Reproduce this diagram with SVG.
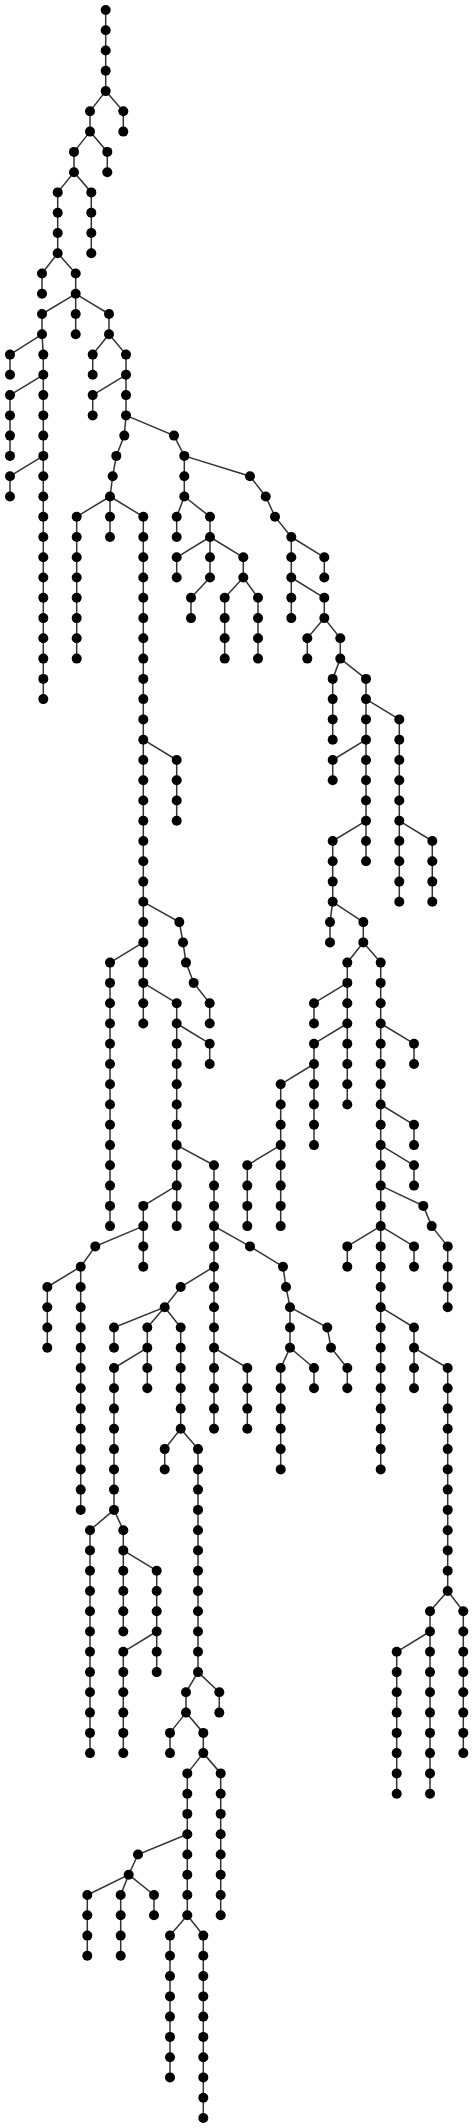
<svg xmlns="http://www.w3.org/2000/svg" width="474" height="2128" viewBox="0 0 474 2128">
<style>
.edges path{fill:none;stroke:#333;stroke-width:1.5}
.node circle{fill:#000}
</style>
<rect width="474" height="2128" fill="#fff"/>
<g id="connectors" class="edges">
<path d="M105.7 10V91.1L90 111.3V131.6L74 151.9V172.2L57.7 192.4V253.2L75.7 273.5V293.8L109 314V334.3L126 354.6V415.4L124.3 435.6L116.3 455.9L112.7 476.2L110 496.5L143.3 516.7V1023.5"/>
<path d="M110 496.5L76.7 516.7V658.6"/>
<path d="M110 496.5V537"/>
<path d="M105.7 91.1L123.3 111.3V131.6"/>
<path d="M90 131.6L107.3 151.9V172.2"/>
<path d="M74 172.2L91.3 192.4V253.2"/>
<path d="M57.7 253.2L42 273.5V293.8"/>
<path d="M75.7 293.8L42 314V334.3L10 354.6V374.8"/>
<path d="M42 334.3L43.3 354.6V699.1"/>
<path d="M43.3 374.8L10 395.1V455.9"/>
<path d="M43.3 455.9L10 476.2V496.5"/>
<path d="M75.7 293.8V334.3"/>
<path d="M109 334.3L92.7 354.6V374.8"/>
<path d="M126 374.8L92.7 395.1V415.4"/>
<path d="M126 415.4L174 435.6L184.3 455.9V496.5L176.7 516.7V537"/>
<path d="M184.3 496.5L210 516.7V537L176.7 557.3V577.5"/>
<path d="M210 537V577.5L191 597.8V618.1"/>
<path d="M210 537L243.3 557.3V577.5L224.7 597.8V658.6"/>
<path d="M243.3 577.5L258 597.8V658.6"/>
<path d="M184.3 455.9L250 476.2L265.7 496.5L275 516.7L291.3 537V618.1"/>
<path d="M291.3 537L324.3 557.3V577.5"/>
<path d="M291.3 577.5L324.3 597.8V618.1L307.3 638.3V658.6"/>
<path d="M324.3 618.1L340.3 638.3V658.6L332.7 678.9V739.7"/>
<path d="M340.3 658.6L366 678.9V861.3"/>
<path d="M366 699.1L399.3 719.4V901.8"/>
<path d="M366 739.7L332.7 760V780.2"/>
<path d="M366 820.8L332.7 841V901.8L330 922.1V942.4"/>
<path d="M332.7 901.8L363.3 922.1V942.4L347.3 962.6V1104.5"/>
<path d="M363.3 942.4L380.7 962.6V1469.4"/>
<path d="M399.3 820.8L432.3 841V901.8"/>
<path d="M347.3 982.9L314 1003.2V1023.5"/>
<path d="M347.3 1023.5L314 1043.7V1145.1"/>
<path d="M314 1064L280.7 1084.3V1226.1"/>
<path d="M280.7 1145.1L247.3 1165.3V1226.1"/>
<path d="M380.7 1023.5L414 1043.7V1064"/>
<path d="M380.7 1104.5L414 1124.8V1145.1"/>
<path d="M380.7 1145.1L414 1165.3V1185.6"/>
<path d="M380.7 1185.6L423.3 1205.9L431.7 1226.1L447.7 1246.4V1307.2"/>
<path d="M380.7 1226.1L347.3 1246.4V1266.7"/>
<path d="M380.7 1226.1L414 1246.4V1266.7"/>
<path d="M380.7 1307.2L414 1327.5V1388.3"/>
<path d="M414 1347.8L447.7 1368V1591"/>
<path d="M447.7 1591L463.3 1611.3V1753.1"/>
<path d="M447.7 1591L430 1611.3V1793.7"/>
<path d="M430 1631.5L396.7 1651.8V1793.7"/>
<path d="M143.3 739.7L176.7 760V820.8"/>
<path d="M143.3 901.8L179.3 922.1L183 942.4L186 962.6L193.7 982.9L209.7 1003.2V1023.5"/>
<path d="M143.3 942.4L110 962.6V1226.1"/>
<path d="M143.3 982.9L176.7 1003.2V1226.1"/>
<path d="M176.7 1023.5L209.7 1043.7V1064"/>
<path d="M176.7 1145.1L214 1165.3V1428.8"/>
<path d="M176.7 1185.6L143.3 1205.9V1266.7"/>
<path d="M143.3 1226.1L95.3 1246.4L80.7 1266.7V1509.9"/>
<path d="M80.7 1266.7L47.3 1287V1347.8"/>
<path d="M214 1226.1L250 1246.4L283 1266.7L286 1287L290 1307.2V1347.8L280.7 1368V1469.4"/>
<path d="M290 1307.2L327.3 1327.5L331 1347.8L347.3 1368V1388.3"/>
<path d="M290 1347.8L314 1368V1388.3"/>
<path d="M214 1266.7L180.7 1287L164.7 1307.2L114 1327.5V1347.8"/>
<path d="M164.7 1307.2L147.3 1327.5V1388.3"/>
<path d="M147.3 1347.8L114 1368V1509.9"/>
<path d="M114 1509.9L90 1530.2V1753.1"/>
<path d="M114 1509.9L123.3 1530.2V1631.5"/>
<path d="M123.3 1550.4L156.7 1570.7V1672.1"/>
<path d="M156.7 1631.5L123.3 1651.8V1753.1"/>
<path d="M164.7 1307.2L180.7 1327.5V1428.8L164.7 1449.1V1469.4"/>
<path d="M180.7 1428.8L198 1449.1V1672.1L186 1692.3V1712.6L170 1732.9V1753.1"/>
<path d="M198 1672.1L219.3 1692.3V1712.6"/>
<path d="M186 1712.6L203.3 1732.9V1753.1L220.7 1773.4V1915.3"/>
<path d="M203.3 1753.1L187.3 1773.4V1915.3"/>
<path d="M187.3 1834.2L138 1854.5L128.7 1874.7L87.3 1895V1955.8"/>
<path d="M128.7 1874.7L120.7 1895V1955.8"/>
<path d="M128.7 1874.7L154 1895V1915.3"/>
<path d="M187.3 1915.3L170 1935.6V2077.4"/>
<path d="M187.3 1915.3L203.3 1935.6V2118"/>
<path d="M214 1347.8L247.3 1368V1428.8"/>
</g>
<g id="nodes" class="node">
<g id="n1"><circle cx="105.7" cy="10" r="5"/></g>
<g id="n2"><circle cx="105.7" cy="30.3" r="5"/></g>
<g id="n3"><circle cx="105.7" cy="50.5" r="5"/></g>
<g id="n4"><circle cx="105.7" cy="70.8" r="5"/></g>
<g id="n5"><circle cx="105.7" cy="91.1" r="5"/></g>
<g id="n6"><circle cx="90" cy="111.3" r="5"/></g>
<g id="n7"><circle cx="90" cy="131.6" r="5"/></g>
<g id="n8"><circle cx="74" cy="151.9" r="5"/></g>
<g id="n9"><circle cx="74" cy="172.2" r="5"/></g>
<g id="n10"><circle cx="57.7" cy="192.4" r="5"/></g>
<g id="n11"><circle cx="57.7" cy="212.7" r="5"/></g>
<g id="n12"><circle cx="57.7" cy="233" r="5"/></g>
<g id="n13"><circle cx="57.7" cy="253.2" r="5"/></g>
<g id="n14"><circle cx="75.7" cy="273.5" r="5"/></g>
<g id="n15"><circle cx="75.7" cy="293.8" r="5"/></g>
<g id="n16"><circle cx="109" cy="314" r="5"/></g>
<g id="n17"><circle cx="109" cy="334.3" r="5"/></g>
<g id="n18"><circle cx="126" cy="354.6" r="5"/></g>
<g id="n19"><circle cx="126" cy="374.8" r="5"/></g>
<g id="n20"><circle cx="126" cy="395.1" r="5"/></g>
<g id="n21"><circle cx="126" cy="415.4" r="5"/></g>
<g id="n22"><circle cx="124.3" cy="435.6" r="5"/></g>
<g id="n23"><circle cx="116.3" cy="455.9" r="5"/></g>
<g id="n24"><circle cx="112.7" cy="476.2" r="5"/></g>
<g id="n25"><circle cx="110" cy="496.5" r="5"/></g>
<g id="n26"><circle cx="143.3" cy="516.7" r="5"/></g>
<g id="n27"><circle cx="143.3" cy="537" r="5"/></g>
<g id="n28"><circle cx="143.3" cy="557.3" r="5"/></g>
<g id="n29"><circle cx="143.3" cy="577.5" r="5"/></g>
<g id="n30"><circle cx="143.3" cy="597.8" r="5"/></g>
<g id="n31"><circle cx="143.3" cy="618.1" r="5"/></g>
<g id="n32"><circle cx="143.3" cy="638.3" r="5"/></g>
<g id="n33"><circle cx="143.3" cy="658.6" r="5"/></g>
<g id="n34"><circle cx="143.3" cy="678.9" r="5"/></g>
<g id="n35"><circle cx="143.3" cy="699.1" r="5"/></g>
<g id="n36"><circle cx="143.3" cy="719.4" r="5"/></g>
<g id="n37"><circle cx="143.3" cy="739.7" r="5"/></g>
<g id="n38"><circle cx="143.3" cy="760" r="5"/></g>
<g id="n39"><circle cx="143.3" cy="780.2" r="5"/></g>
<g id="n40"><circle cx="143.3" cy="800.5" r="5"/></g>
<g id="n41"><circle cx="143.3" cy="820.8" r="5"/></g>
<g id="n42"><circle cx="143.3" cy="841" r="5"/></g>
<g id="n43"><circle cx="143.3" cy="861.3" r="5"/></g>
<g id="n44"><circle cx="143.3" cy="881.6" r="5"/></g>
<g id="n45"><circle cx="143.3" cy="901.8" r="5"/></g>
<g id="n46"><circle cx="143.3" cy="922.1" r="5"/></g>
<g id="n47"><circle cx="143.3" cy="942.4" r="5"/></g>
<g id="n48"><circle cx="143.3" cy="962.6" r="5"/></g>
<g id="n49"><circle cx="143.3" cy="982.9" r="5"/></g>
<g id="n50"><circle cx="143.3" cy="1003.2" r="5"/></g>
<g id="n51"><circle cx="143.3" cy="1023.5" r="5"/></g>
<g id="n52"><circle cx="123.3" cy="111.3" r="5"/></g>
<g id="n53"><circle cx="123.3" cy="131.6" r="5"/></g>
<g id="n54"><circle cx="107.3" cy="151.9" r="5"/></g>
<g id="n55"><circle cx="107.3" cy="172.2" r="5"/></g>
<g id="n56"><circle cx="91.3" cy="192.4" r="5"/></g>
<g id="n57"><circle cx="91.3" cy="212.7" r="5"/></g>
<g id="n58"><circle cx="91.3" cy="233" r="5"/></g>
<g id="n59"><circle cx="91.3" cy="253.2" r="5"/></g>
<g id="n60"><circle cx="42" cy="273.5" r="5"/></g>
<g id="n61"><circle cx="42" cy="293.8" r="5"/></g>
<g id="n62"><circle cx="42" cy="314" r="5"/></g>
<g id="n63"><circle cx="42" cy="334.3" r="5"/></g>
<g id="n64"><circle cx="10" cy="354.6" r="5"/></g>
<g id="n65"><circle cx="10" cy="374.8" r="5"/></g>
<g id="n66"><circle cx="43.3" cy="354.6" r="5"/></g>
<g id="n67"><circle cx="43.3" cy="374.8" r="5"/></g>
<g id="n68"><circle cx="43.3" cy="395.1" r="5"/></g>
<g id="n69"><circle cx="43.3" cy="415.4" r="5"/></g>
<g id="n70"><circle cx="43.3" cy="435.6" r="5"/></g>
<g id="n71"><circle cx="43.3" cy="455.9" r="5"/></g>
<g id="n72"><circle cx="43.3" cy="476.2" r="5"/></g>
<g id="n73"><circle cx="43.3" cy="496.5" r="5"/></g>
<g id="n74"><circle cx="43.3" cy="516.7" r="5"/></g>
<g id="n75"><circle cx="43.3" cy="537" r="5"/></g>
<g id="n76"><circle cx="43.3" cy="557.3" r="5"/></g>
<g id="n77"><circle cx="43.3" cy="577.5" r="5"/></g>
<g id="n78"><circle cx="43.3" cy="597.8" r="5"/></g>
<g id="n79"><circle cx="43.3" cy="618.1" r="5"/></g>
<g id="n80"><circle cx="43.3" cy="638.3" r="5"/></g>
<g id="n81"><circle cx="43.3" cy="658.6" r="5"/></g>
<g id="n82"><circle cx="43.3" cy="678.9" r="5"/></g>
<g id="n83"><circle cx="43.3" cy="699.1" r="5"/></g>
<g id="n84"><circle cx="10" cy="395.1" r="5"/></g>
<g id="n85"><circle cx="10" cy="415.4" r="5"/></g>
<g id="n86"><circle cx="10" cy="435.6" r="5"/></g>
<g id="n87"><circle cx="10" cy="455.9" r="5"/></g>
<g id="n88"><circle cx="10" cy="476.2" r="5"/></g>
<g id="n89"><circle cx="10" cy="496.5" r="5"/></g>
<g id="n90"><circle cx="75.7" cy="314" r="5"/></g>
<g id="n91"><circle cx="75.7" cy="334.3" r="5"/></g>
<g id="n92"><circle cx="92.7" cy="354.6" r="5"/></g>
<g id="n93"><circle cx="92.7" cy="374.8" r="5"/></g>
<g id="n94"><circle cx="92.7" cy="395.1" r="5"/></g>
<g id="n95"><circle cx="92.7" cy="415.4" r="5"/></g>
<g id="n96"><circle cx="174" cy="435.6" r="5"/></g>
<g id="n97"><circle cx="184.3" cy="455.9" r="5"/></g>
<g id="n98"><circle cx="184.3" cy="476.2" r="5"/></g>
<g id="n99"><circle cx="184.3" cy="496.5" r="5"/></g>
<g id="n100"><circle cx="176.7" cy="516.7" r="5"/></g>
<g id="n101"><circle cx="176.7" cy="537" r="5"/></g>
<g id="n102"><circle cx="210" cy="516.7" r="5"/></g>
<g id="n103"><circle cx="210" cy="537" r="5"/></g>
<g id="n104"><circle cx="176.7" cy="557.3" r="5"/></g>
<g id="n105"><circle cx="176.7" cy="577.5" r="5"/></g>
<g id="n106"><circle cx="210" cy="557.3" r="5"/></g>
<g id="n107"><circle cx="210" cy="577.5" r="5"/></g>
<g id="n108"><circle cx="191" cy="597.8" r="5"/></g>
<g id="n109"><circle cx="191" cy="618.1" r="5"/></g>
<g id="n110"><circle cx="243.3" cy="557.3" r="5"/></g>
<g id="n111"><circle cx="243.3" cy="577.5" r="5"/></g>
<g id="n112"><circle cx="224.7" cy="597.8" r="5"/></g>
<g id="n113"><circle cx="224.7" cy="618.1" r="5"/></g>
<g id="n114"><circle cx="224.7" cy="638.3" r="5"/></g>
<g id="n115"><circle cx="224.7" cy="658.6" r="5"/></g>
<g id="n116"><circle cx="258" cy="597.8" r="5"/></g>
<g id="n117"><circle cx="258" cy="618.1" r="5"/></g>
<g id="n118"><circle cx="258" cy="638.3" r="5"/></g>
<g id="n119"><circle cx="258" cy="658.6" r="5"/></g>
<g id="n120"><circle cx="250" cy="476.2" r="5"/></g>
<g id="n121"><circle cx="265.7" cy="496.5" r="5"/></g>
<g id="n122"><circle cx="275" cy="516.7" r="5"/></g>
<g id="n123"><circle cx="291.3" cy="537" r="5"/></g>
<g id="n124"><circle cx="291.3" cy="557.3" r="5"/></g>
<g id="n125"><circle cx="291.3" cy="577.5" r="5"/></g>
<g id="n126"><circle cx="291.3" cy="597.8" r="5"/></g>
<g id="n127"><circle cx="291.3" cy="618.1" r="5"/></g>
<g id="n128"><circle cx="324.3" cy="557.3" r="5"/></g>
<g id="n129"><circle cx="324.3" cy="577.5" r="5"/></g>
<g id="n130"><circle cx="324.3" cy="597.8" r="5"/></g>
<g id="n131"><circle cx="324.3" cy="618.1" r="5"/></g>
<g id="n132"><circle cx="307.3" cy="638.3" r="5"/></g>
<g id="n133"><circle cx="307.3" cy="658.6" r="5"/></g>
<g id="n134"><circle cx="340.3" cy="638.3" r="5"/></g>
<g id="n135"><circle cx="340.3" cy="658.6" r="5"/></g>
<g id="n136"><circle cx="332.7" cy="678.9" r="5"/></g>
<g id="n137"><circle cx="332.7" cy="699.1" r="5"/></g>
<g id="n138"><circle cx="332.7" cy="719.4" r="5"/></g>
<g id="n139"><circle cx="332.7" cy="739.7" r="5"/></g>
<g id="n140"><circle cx="366" cy="678.9" r="5"/></g>
<g id="n141"><circle cx="366" cy="699.1" r="5"/></g>
<g id="n142"><circle cx="366" cy="719.4" r="5"/></g>
<g id="n143"><circle cx="366" cy="739.7" r="5"/></g>
<g id="n144"><circle cx="366" cy="760" r="5"/></g>
<g id="n145"><circle cx="366" cy="780.2" r="5"/></g>
<g id="n146"><circle cx="366" cy="800.5" r="5"/></g>
<g id="n147"><circle cx="366" cy="820.8" r="5"/></g>
<g id="n148"><circle cx="366" cy="841" r="5"/></g>
<g id="n149"><circle cx="366" cy="861.3" r="5"/></g>
<g id="n150"><circle cx="399.3" cy="719.4" r="5"/></g>
<g id="n151"><circle cx="399.3" cy="739.7" r="5"/></g>
<g id="n152"><circle cx="399.3" cy="760" r="5"/></g>
<g id="n153"><circle cx="399.3" cy="780.2" r="5"/></g>
<g id="n154"><circle cx="399.3" cy="800.5" r="5"/></g>
<g id="n155"><circle cx="399.3" cy="820.8" r="5"/></g>
<g id="n156"><circle cx="399.3" cy="841" r="5"/></g>
<g id="n157"><circle cx="399.3" cy="861.3" r="5"/></g>
<g id="n158"><circle cx="399.3" cy="881.6" r="5"/></g>
<g id="n159"><circle cx="399.3" cy="901.8" r="5"/></g>
<g id="n160"><circle cx="332.7" cy="760" r="5"/></g>
<g id="n161"><circle cx="332.7" cy="780.2" r="5"/></g>
<g id="n162"><circle cx="332.7" cy="841" r="5"/></g>
<g id="n163"><circle cx="332.7" cy="861.3" r="5"/></g>
<g id="n164"><circle cx="332.7" cy="881.6" r="5"/></g>
<g id="n165"><circle cx="332.7" cy="901.8" r="5"/></g>
<g id="n166"><circle cx="330" cy="922.1" r="5"/></g>
<g id="n167"><circle cx="330" cy="942.4" r="5"/></g>
<g id="n168"><circle cx="363.3" cy="922.1" r="5"/></g>
<g id="n169"><circle cx="363.3" cy="942.4" r="5"/></g>
<g id="n170"><circle cx="347.3" cy="962.6" r="5"/></g>
<g id="n171"><circle cx="347.3" cy="982.9" r="5"/></g>
<g id="n172"><circle cx="347.3" cy="1003.2" r="5"/></g>
<g id="n173"><circle cx="347.3" cy="1023.5" r="5"/></g>
<g id="n174"><circle cx="347.3" cy="1043.7" r="5"/></g>
<g id="n175"><circle cx="347.3" cy="1064" r="5"/></g>
<g id="n176"><circle cx="347.3" cy="1084.3" r="5"/></g>
<g id="n177"><circle cx="347.3" cy="1104.5" r="5"/></g>
<g id="n178"><circle cx="380.7" cy="962.6" r="5"/></g>
<g id="n179"><circle cx="380.7" cy="982.9" r="5"/></g>
<g id="n180"><circle cx="380.7" cy="1003.2" r="5"/></g>
<g id="n181"><circle cx="380.7" cy="1023.5" r="5"/></g>
<g id="n182"><circle cx="380.7" cy="1043.7" r="5"/></g>
<g id="n183"><circle cx="380.7" cy="1064" r="5"/></g>
<g id="n184"><circle cx="380.7" cy="1084.3" r="5"/></g>
<g id="n185"><circle cx="380.7" cy="1104.5" r="5"/></g>
<g id="n186"><circle cx="380.7" cy="1124.8" r="5"/></g>
<g id="n187"><circle cx="380.7" cy="1145.1" r="5"/></g>
<g id="n188"><circle cx="380.7" cy="1165.3" r="5"/></g>
<g id="n189"><circle cx="380.7" cy="1185.6" r="5"/></g>
<g id="n190"><circle cx="380.7" cy="1205.9" r="5"/></g>
<g id="n191"><circle cx="380.7" cy="1226.1" r="5"/></g>
<g id="n192"><circle cx="380.7" cy="1246.4" r="5"/></g>
<g id="n193"><circle cx="380.7" cy="1266.7" r="5"/></g>
<g id="n194"><circle cx="380.7" cy="1287" r="5"/></g>
<g id="n195"><circle cx="380.7" cy="1307.2" r="5"/></g>
<g id="n196"><circle cx="380.7" cy="1327.5" r="5"/></g>
<g id="n197"><circle cx="380.7" cy="1347.8" r="5"/></g>
<g id="n198"><circle cx="380.7" cy="1368" r="5"/></g>
<g id="n199"><circle cx="380.7" cy="1388.3" r="5"/></g>
<g id="n200"><circle cx="380.7" cy="1408.6" r="5"/></g>
<g id="n201"><circle cx="380.7" cy="1428.8" r="5"/></g>
<g id="n202"><circle cx="380.7" cy="1449.1" r="5"/></g>
<g id="n203"><circle cx="380.7" cy="1469.4" r="5"/></g>
<g id="n204"><circle cx="432.3" cy="841" r="5"/></g>
<g id="n205"><circle cx="432.3" cy="861.3" r="5"/></g>
<g id="n206"><circle cx="432.3" cy="881.6" r="5"/></g>
<g id="n207"><circle cx="432.3" cy="901.8" r="5"/></g>
<g id="n208"><circle cx="314" cy="1003.2" r="5"/></g>
<g id="n209"><circle cx="314" cy="1023.5" r="5"/></g>
<g id="n210"><circle cx="314" cy="1043.7" r="5"/></g>
<g id="n211"><circle cx="314" cy="1064" r="5"/></g>
<g id="n212"><circle cx="314" cy="1084.3" r="5"/></g>
<g id="n213"><circle cx="314" cy="1104.5" r="5"/></g>
<g id="n214"><circle cx="314" cy="1124.8" r="5"/></g>
<g id="n215"><circle cx="314" cy="1145.1" r="5"/></g>
<g id="n216"><circle cx="280.7" cy="1084.3" r="5"/></g>
<g id="n217"><circle cx="280.7" cy="1104.5" r="5"/></g>
<g id="n218"><circle cx="280.7" cy="1124.8" r="5"/></g>
<g id="n219"><circle cx="280.7" cy="1145.1" r="5"/></g>
<g id="n220"><circle cx="280.7" cy="1165.3" r="5"/></g>
<g id="n221"><circle cx="280.7" cy="1185.6" r="5"/></g>
<g id="n222"><circle cx="280.7" cy="1205.9" r="5"/></g>
<g id="n223"><circle cx="280.7" cy="1226.1" r="5"/></g>
<g id="n224"><circle cx="247.3" cy="1165.3" r="5"/></g>
<g id="n225"><circle cx="247.3" cy="1185.6" r="5"/></g>
<g id="n226"><circle cx="247.3" cy="1205.9" r="5"/></g>
<g id="n227"><circle cx="247.3" cy="1226.1" r="5"/></g>
<g id="n228"><circle cx="414" cy="1043.7" r="5"/></g>
<g id="n229"><circle cx="414" cy="1064" r="5"/></g>
<g id="n230"><circle cx="414" cy="1124.8" r="5"/></g>
<g id="n231"><circle cx="414" cy="1145.1" r="5"/></g>
<g id="n232"><circle cx="414" cy="1165.3" r="5"/></g>
<g id="n233"><circle cx="414" cy="1185.6" r="5"/></g>
<g id="n234"><circle cx="423.3" cy="1205.9" r="5"/></g>
<g id="n235"><circle cx="431.7" cy="1226.1" r="5"/></g>
<g id="n236"><circle cx="447.7" cy="1246.4" r="5"/></g>
<g id="n237"><circle cx="447.7" cy="1266.7" r="5"/></g>
<g id="n238"><circle cx="447.7" cy="1287" r="5"/></g>
<g id="n239"><circle cx="447.7" cy="1307.2" r="5"/></g>
<g id="n240"><circle cx="347.3" cy="1246.4" r="5"/></g>
<g id="n241"><circle cx="347.3" cy="1266.7" r="5"/></g>
<g id="n242"><circle cx="414" cy="1246.4" r="5"/></g>
<g id="n243"><circle cx="414" cy="1266.7" r="5"/></g>
<g id="n244"><circle cx="414" cy="1327.5" r="5"/></g>
<g id="n245"><circle cx="414" cy="1347.8" r="5"/></g>
<g id="n246"><circle cx="414" cy="1368" r="5"/></g>
<g id="n247"><circle cx="414" cy="1388.3" r="5"/></g>
<g id="n248"><circle cx="447.7" cy="1368" r="5"/></g>
<g id="n249"><circle cx="447.7" cy="1388.3" r="5"/></g>
<g id="n250"><circle cx="447.7" cy="1408.6" r="5"/></g>
<g id="n251"><circle cx="447.7" cy="1428.8" r="5"/></g>
<g id="n252"><circle cx="447.7" cy="1449.1" r="5"/></g>
<g id="n253"><circle cx="447.7" cy="1469.4" r="5"/></g>
<g id="n254"><circle cx="447.7" cy="1489.6" r="5"/></g>
<g id="n255"><circle cx="447.7" cy="1509.9" r="5"/></g>
<g id="n256"><circle cx="447.7" cy="1530.2" r="5"/></g>
<g id="n257"><circle cx="447.7" cy="1550.4" r="5"/></g>
<g id="n258"><circle cx="447.7" cy="1570.7" r="5"/></g>
<g id="n259"><circle cx="447.7" cy="1591" r="5"/></g>
<g id="n260"><circle cx="463.3" cy="1611.3" r="5"/></g>
<g id="n261"><circle cx="463.3" cy="1631.5" r="5"/></g>
<g id="n262"><circle cx="463.3" cy="1651.8" r="5"/></g>
<g id="n263"><circle cx="463.3" cy="1672.1" r="5"/></g>
<g id="n264"><circle cx="463.3" cy="1692.3" r="5"/></g>
<g id="n265"><circle cx="463.3" cy="1712.6" r="5"/></g>
<g id="n266"><circle cx="463.3" cy="1732.9" r="5"/></g>
<g id="n267"><circle cx="463.3" cy="1753.1" r="5"/></g>
<g id="n268"><circle cx="430" cy="1611.3" r="5"/></g>
<g id="n269"><circle cx="430" cy="1631.5" r="5"/></g>
<g id="n270"><circle cx="430" cy="1651.8" r="5"/></g>
<g id="n271"><circle cx="430" cy="1672.1" r="5"/></g>
<g id="n272"><circle cx="430" cy="1692.3" r="5"/></g>
<g id="n273"><circle cx="430" cy="1712.6" r="5"/></g>
<g id="n274"><circle cx="430" cy="1732.9" r="5"/></g>
<g id="n275"><circle cx="430" cy="1753.1" r="5"/></g>
<g id="n276"><circle cx="430" cy="1773.4" r="5"/></g>
<g id="n277"><circle cx="430" cy="1793.7" r="5"/></g>
<g id="n278"><circle cx="396.7" cy="1651.8" r="5"/></g>
<g id="n279"><circle cx="396.7" cy="1672.1" r="5"/></g>
<g id="n280"><circle cx="396.7" cy="1692.3" r="5"/></g>
<g id="n281"><circle cx="396.7" cy="1712.6" r="5"/></g>
<g id="n282"><circle cx="396.7" cy="1732.9" r="5"/></g>
<g id="n283"><circle cx="396.7" cy="1753.1" r="5"/></g>
<g id="n284"><circle cx="396.7" cy="1773.4" r="5"/></g>
<g id="n285"><circle cx="396.7" cy="1793.7" r="5"/></g>
<g id="n286"><circle cx="176.7" cy="760" r="5"/></g>
<g id="n287"><circle cx="176.7" cy="780.2" r="5"/></g>
<g id="n288"><circle cx="176.7" cy="800.5" r="5"/></g>
<g id="n289"><circle cx="176.7" cy="820.8" r="5"/></g>
<g id="n290"><circle cx="179.3" cy="922.1" r="5"/></g>
<g id="n291"><circle cx="183" cy="942.4" r="5"/></g>
<g id="n292"><circle cx="186" cy="962.6" r="5"/></g>
<g id="n293"><circle cx="193.7" cy="982.9" r="5"/></g>
<g id="n294"><circle cx="209.7" cy="1003.2" r="5"/></g>
<g id="n295"><circle cx="209.7" cy="1023.5" r="5"/></g>
<g id="n296"><circle cx="110" cy="962.6" r="5"/></g>
<g id="n297"><circle cx="110" cy="982.9" r="5"/></g>
<g id="n298"><circle cx="110" cy="1003.2" r="5"/></g>
<g id="n299"><circle cx="110" cy="1023.5" r="5"/></g>
<g id="n300"><circle cx="110" cy="1043.7" r="5"/></g>
<g id="n301"><circle cx="110" cy="1064" r="5"/></g>
<g id="n302"><circle cx="110" cy="1084.3" r="5"/></g>
<g id="n303"><circle cx="110" cy="1104.5" r="5"/></g>
<g id="n304"><circle cx="110" cy="1124.8" r="5"/></g>
<g id="n305"><circle cx="110" cy="1145.1" r="5"/></g>
<g id="n306"><circle cx="110" cy="1165.3" r="5"/></g>
<g id="n307"><circle cx="110" cy="1185.6" r="5"/></g>
<g id="n308"><circle cx="110" cy="1205.9" r="5"/></g>
<g id="n309"><circle cx="110" cy="1226.1" r="5"/></g>
<g id="n310"><circle cx="176.7" cy="1003.2" r="5"/></g>
<g id="n311"><circle cx="176.7" cy="1023.5" r="5"/></g>
<g id="n312"><circle cx="176.7" cy="1043.7" r="5"/></g>
<g id="n313"><circle cx="176.7" cy="1064" r="5"/></g>
<g id="n314"><circle cx="176.7" cy="1084.3" r="5"/></g>
<g id="n315"><circle cx="176.7" cy="1104.5" r="5"/></g>
<g id="n316"><circle cx="176.7" cy="1124.8" r="5"/></g>
<g id="n317"><circle cx="176.7" cy="1145.1" r="5"/></g>
<g id="n318"><circle cx="176.7" cy="1165.3" r="5"/></g>
<g id="n319"><circle cx="176.7" cy="1185.6" r="5"/></g>
<g id="n320"><circle cx="176.7" cy="1205.9" r="5"/></g>
<g id="n321"><circle cx="176.7" cy="1226.1" r="5"/></g>
<g id="n322"><circle cx="209.7" cy="1043.7" r="5"/></g>
<g id="n323"><circle cx="209.7" cy="1064" r="5"/></g>
<g id="n324"><circle cx="214" cy="1165.3" r="5"/></g>
<g id="n325"><circle cx="214" cy="1185.6" r="5"/></g>
<g id="n326"><circle cx="214" cy="1205.9" r="5"/></g>
<g id="n327"><circle cx="214" cy="1226.1" r="5"/></g>
<g id="n328"><circle cx="214" cy="1246.4" r="5"/></g>
<g id="n329"><circle cx="214" cy="1266.7" r="5"/></g>
<g id="n330"><circle cx="214" cy="1287" r="5"/></g>
<g id="n331"><circle cx="214" cy="1307.2" r="5"/></g>
<g id="n332"><circle cx="214" cy="1327.5" r="5"/></g>
<g id="n333"><circle cx="214" cy="1347.8" r="5"/></g>
<g id="n334"><circle cx="214" cy="1368" r="5"/></g>
<g id="n335"><circle cx="214" cy="1388.3" r="5"/></g>
<g id="n336"><circle cx="214" cy="1408.6" r="5"/></g>
<g id="n337"><circle cx="214" cy="1428.8" r="5"/></g>
<g id="n338"><circle cx="143.3" cy="1205.9" r="5"/></g>
<g id="n339"><circle cx="143.3" cy="1226.1" r="5"/></g>
<g id="n340"><circle cx="143.3" cy="1246.4" r="5"/></g>
<g id="n341"><circle cx="143.3" cy="1266.7" r="5"/></g>
<g id="n342"><circle cx="95.3" cy="1246.4" r="5"/></g>
<g id="n343"><circle cx="80.7" cy="1266.7" r="5"/></g>
<g id="n344"><circle cx="80.7" cy="1287" r="5"/></g>
<g id="n345"><circle cx="80.7" cy="1307.2" r="5"/></g>
<g id="n346"><circle cx="80.7" cy="1327.5" r="5"/></g>
<g id="n347"><circle cx="80.7" cy="1347.8" r="5"/></g>
<g id="n348"><circle cx="80.7" cy="1368" r="5"/></g>
<g id="n349"><circle cx="80.7" cy="1388.3" r="5"/></g>
<g id="n350"><circle cx="80.7" cy="1408.6" r="5"/></g>
<g id="n351"><circle cx="80.7" cy="1428.8" r="5"/></g>
<g id="n352"><circle cx="80.7" cy="1449.1" r="5"/></g>
<g id="n353"><circle cx="80.7" cy="1469.4" r="5"/></g>
<g id="n354"><circle cx="80.7" cy="1489.6" r="5"/></g>
<g id="n355"><circle cx="80.7" cy="1509.9" r="5"/></g>
<g id="n356"><circle cx="47.3" cy="1287" r="5"/></g>
<g id="n357"><circle cx="47.3" cy="1307.2" r="5"/></g>
<g id="n358"><circle cx="47.3" cy="1327.5" r="5"/></g>
<g id="n359"><circle cx="47.3" cy="1347.8" r="5"/></g>
<g id="n360"><circle cx="250" cy="1246.4" r="5"/></g>
<g id="n361"><circle cx="283" cy="1266.7" r="5"/></g>
<g id="n362"><circle cx="286" cy="1287" r="5"/></g>
<g id="n363"><circle cx="290" cy="1307.2" r="5"/></g>
<g id="n364"><circle cx="290" cy="1327.5" r="5"/></g>
<g id="n365"><circle cx="290" cy="1347.8" r="5"/></g>
<g id="n366"><circle cx="280.7" cy="1368" r="5"/></g>
<g id="n367"><circle cx="280.7" cy="1388.3" r="5"/></g>
<g id="n368"><circle cx="280.7" cy="1408.6" r="5"/></g>
<g id="n369"><circle cx="280.7" cy="1428.8" r="5"/></g>
<g id="n370"><circle cx="280.7" cy="1449.1" r="5"/></g>
<g id="n371"><circle cx="280.7" cy="1469.4" r="5"/></g>
<g id="n372"><circle cx="327.3" cy="1327.5" r="5"/></g>
<g id="n373"><circle cx="331" cy="1347.8" r="5"/></g>
<g id="n374"><circle cx="347.3" cy="1368" r="5"/></g>
<g id="n375"><circle cx="347.3" cy="1388.3" r="5"/></g>
<g id="n376"><circle cx="314" cy="1368" r="5"/></g>
<g id="n377"><circle cx="314" cy="1388.3" r="5"/></g>
<g id="n378"><circle cx="180.7" cy="1287" r="5"/></g>
<g id="n379"><circle cx="164.7" cy="1307.2" r="5"/></g>
<g id="n380"><circle cx="114" cy="1327.5" r="5"/></g>
<g id="n381"><circle cx="114" cy="1347.8" r="5"/></g>
<g id="n382"><circle cx="147.3" cy="1327.5" r="5"/></g>
<g id="n383"><circle cx="147.3" cy="1347.8" r="5"/></g>
<g id="n384"><circle cx="147.3" cy="1368" r="5"/></g>
<g id="n385"><circle cx="147.3" cy="1388.3" r="5"/></g>
<g id="n386"><circle cx="114" cy="1368" r="5"/></g>
<g id="n387"><circle cx="114" cy="1388.3" r="5"/></g>
<g id="n388"><circle cx="114" cy="1408.6" r="5"/></g>
<g id="n389"><circle cx="114" cy="1428.8" r="5"/></g>
<g id="n390"><circle cx="114" cy="1449.1" r="5"/></g>
<g id="n391"><circle cx="114" cy="1469.4" r="5"/></g>
<g id="n392"><circle cx="114" cy="1489.6" r="5"/></g>
<g id="n393"><circle cx="114" cy="1509.9" r="5"/></g>
<g id="n394"><circle cx="90" cy="1530.2" r="5"/></g>
<g id="n395"><circle cx="90" cy="1550.4" r="5"/></g>
<g id="n396"><circle cx="90" cy="1570.7" r="5"/></g>
<g id="n397"><circle cx="90" cy="1591" r="5"/></g>
<g id="n398"><circle cx="90" cy="1611.3" r="5"/></g>
<g id="n399"><circle cx="90" cy="1631.5" r="5"/></g>
<g id="n400"><circle cx="90" cy="1651.8" r="5"/></g>
<g id="n401"><circle cx="90" cy="1672.1" r="5"/></g>
<g id="n402"><circle cx="90" cy="1692.3" r="5"/></g>
<g id="n403"><circle cx="90" cy="1712.6" r="5"/></g>
<g id="n404"><circle cx="90" cy="1732.9" r="5"/></g>
<g id="n405"><circle cx="90" cy="1753.1" r="5"/></g>
<g id="n406"><circle cx="123.3" cy="1530.2" r="5"/></g>
<g id="n407"><circle cx="123.3" cy="1550.4" r="5"/></g>
<g id="n408"><circle cx="123.3" cy="1570.7" r="5"/></g>
<g id="n409"><circle cx="123.3" cy="1591" r="5"/></g>
<g id="n410"><circle cx="123.3" cy="1611.3" r="5"/></g>
<g id="n411"><circle cx="123.3" cy="1631.5" r="5"/></g>
<g id="n412"><circle cx="156.7" cy="1570.7" r="5"/></g>
<g id="n413"><circle cx="156.7" cy="1591" r="5"/></g>
<g id="n414"><circle cx="156.7" cy="1611.3" r="5"/></g>
<g id="n415"><circle cx="156.7" cy="1631.5" r="5"/></g>
<g id="n416"><circle cx="156.7" cy="1651.8" r="5"/></g>
<g id="n417"><circle cx="156.7" cy="1672.1" r="5"/></g>
<g id="n418"><circle cx="123.3" cy="1651.8" r="5"/></g>
<g id="n419"><circle cx="123.3" cy="1672.1" r="5"/></g>
<g id="n420"><circle cx="123.3" cy="1692.3" r="5"/></g>
<g id="n421"><circle cx="123.3" cy="1712.6" r="5"/></g>
<g id="n422"><circle cx="123.3" cy="1732.9" r="5"/></g>
<g id="n423"><circle cx="123.3" cy="1753.1" r="5"/></g>
<g id="n424"><circle cx="180.7" cy="1327.5" r="5"/></g>
<g id="n425"><circle cx="180.7" cy="1347.8" r="5"/></g>
<g id="n426"><circle cx="180.7" cy="1368" r="5"/></g>
<g id="n427"><circle cx="180.7" cy="1388.3" r="5"/></g>
<g id="n428"><circle cx="180.7" cy="1408.6" r="5"/></g>
<g id="n429"><circle cx="180.7" cy="1428.8" r="5"/></g>
<g id="n430"><circle cx="164.7" cy="1449.1" r="5"/></g>
<g id="n431"><circle cx="164.7" cy="1469.4" r="5"/></g>
<g id="n432"><circle cx="198" cy="1449.1" r="5"/></g>
<g id="n433"><circle cx="198" cy="1469.4" r="5"/></g>
<g id="n434"><circle cx="198" cy="1489.6" r="5"/></g>
<g id="n435"><circle cx="198" cy="1509.9" r="5"/></g>
<g id="n436"><circle cx="198" cy="1530.2" r="5"/></g>
<g id="n437"><circle cx="198" cy="1550.4" r="5"/></g>
<g id="n438"><circle cx="198" cy="1570.7" r="5"/></g>
<g id="n439"><circle cx="198" cy="1591" r="5"/></g>
<g id="n440"><circle cx="198" cy="1611.3" r="5"/></g>
<g id="n441"><circle cx="198" cy="1631.5" r="5"/></g>
<g id="n442"><circle cx="198" cy="1651.8" r="5"/></g>
<g id="n443"><circle cx="198" cy="1672.1" r="5"/></g>
<g id="n444"><circle cx="186" cy="1692.3" r="5"/></g>
<g id="n445"><circle cx="186" cy="1712.6" r="5"/></g>
<g id="n446"><circle cx="170" cy="1732.9" r="5"/></g>
<g id="n447"><circle cx="170" cy="1753.1" r="5"/></g>
<g id="n448"><circle cx="219.3" cy="1692.3" r="5"/></g>
<g id="n449"><circle cx="219.3" cy="1712.6" r="5"/></g>
<g id="n450"><circle cx="203.3" cy="1732.9" r="5"/></g>
<g id="n451"><circle cx="203.3" cy="1753.1" r="5"/></g>
<g id="n452"><circle cx="220.7" cy="1773.4" r="5"/></g>
<g id="n453"><circle cx="220.7" cy="1793.7" r="5"/></g>
<g id="n454"><circle cx="220.7" cy="1813.9" r="5"/></g>
<g id="n455"><circle cx="220.7" cy="1834.2" r="5"/></g>
<g id="n456"><circle cx="220.7" cy="1854.5" r="5"/></g>
<g id="n457"><circle cx="220.7" cy="1874.7" r="5"/></g>
<g id="n458"><circle cx="220.7" cy="1895" r="5"/></g>
<g id="n459"><circle cx="220.7" cy="1915.3" r="5"/></g>
<g id="n460"><circle cx="187.3" cy="1773.4" r="5"/></g>
<g id="n461"><circle cx="187.3" cy="1793.7" r="5"/></g>
<g id="n462"><circle cx="187.3" cy="1813.9" r="5"/></g>
<g id="n463"><circle cx="187.3" cy="1834.2" r="5"/></g>
<g id="n464"><circle cx="187.3" cy="1854.5" r="5"/></g>
<g id="n465"><circle cx="187.3" cy="1874.7" r="5"/></g>
<g id="n466"><circle cx="187.3" cy="1895" r="5"/></g>
<g id="n467"><circle cx="187.3" cy="1915.3" r="5"/></g>
<g id="n468"><circle cx="138" cy="1854.5" r="5"/></g>
<g id="n469"><circle cx="128.7" cy="1874.7" r="5"/></g>
<g id="n470"><circle cx="87.3" cy="1895" r="5"/></g>
<g id="n471"><circle cx="87.3" cy="1915.3" r="5"/></g>
<g id="n472"><circle cx="87.3" cy="1935.6" r="5"/></g>
<g id="n473"><circle cx="87.3" cy="1955.8" r="5"/></g>
<g id="n474"><circle cx="120.7" cy="1895" r="5"/></g>
<g id="n475"><circle cx="120.7" cy="1915.3" r="5"/></g>
<g id="n476"><circle cx="120.7" cy="1935.6" r="5"/></g>
<g id="n477"><circle cx="120.7" cy="1955.8" r="5"/></g>
<g id="n478"><circle cx="154" cy="1895" r="5"/></g>
<g id="n479"><circle cx="154" cy="1915.3" r="5"/></g>
<g id="n480"><circle cx="170" cy="1935.6" r="5"/></g>
<g id="n481"><circle cx="170" cy="1955.8" r="5"/></g>
<g id="n482"><circle cx="170" cy="1976.1" r="5"/></g>
<g id="n483"><circle cx="170" cy="1996.4" r="5"/></g>
<g id="n484"><circle cx="170" cy="2016.6" r="5"/></g>
<g id="n485"><circle cx="170" cy="2036.9" r="5"/></g>
<g id="n486"><circle cx="170" cy="2057.2" r="5"/></g>
<g id="n487"><circle cx="170" cy="2077.4" r="5"/></g>
<g id="n488"><circle cx="203.3" cy="1935.6" r="5"/></g>
<g id="n489"><circle cx="203.3" cy="1955.8" r="5"/></g>
<g id="n490"><circle cx="203.3" cy="1976.1" r="5"/></g>
<g id="n491"><circle cx="203.3" cy="1996.4" r="5"/></g>
<g id="n492"><circle cx="203.3" cy="2016.6" r="5"/></g>
<g id="n493"><circle cx="203.3" cy="2036.9" r="5"/></g>
<g id="n494"><circle cx="203.3" cy="2057.2" r="5"/></g>
<g id="n495"><circle cx="203.3" cy="2077.4" r="5"/></g>
<g id="n496"><circle cx="203.3" cy="2097.7" r="5"/></g>
<g id="n497"><circle cx="203.3" cy="2118" r="5"/></g>
<g id="n498"><circle cx="247.3" cy="1368" r="5"/></g>
<g id="n499"><circle cx="247.3" cy="1388.3" r="5"/></g>
<g id="n500"><circle cx="247.3" cy="1408.6" r="5"/></g>
<g id="n501"><circle cx="247.3" cy="1428.8" r="5"/></g>
<g id="n502"><circle cx="76.7" cy="516.7" r="5"/></g>
<g id="n503"><circle cx="76.7" cy="537" r="5"/></g>
<g id="n504"><circle cx="76.7" cy="557.3" r="5"/></g>
<g id="n505"><circle cx="76.7" cy="577.5" r="5"/></g>
<g id="n506"><circle cx="76.7" cy="597.8" r="5"/></g>
<g id="n507"><circle cx="76.7" cy="618.1" r="5"/></g>
<g id="n508"><circle cx="76.7" cy="638.3" r="5"/></g>
<g id="n509"><circle cx="76.7" cy="658.6" r="5"/></g>
<g id="n510"><circle cx="110" cy="516.7" r="5"/></g>
<g id="n511"><circle cx="110" cy="537" r="5"/></g>
</g>
</svg>
